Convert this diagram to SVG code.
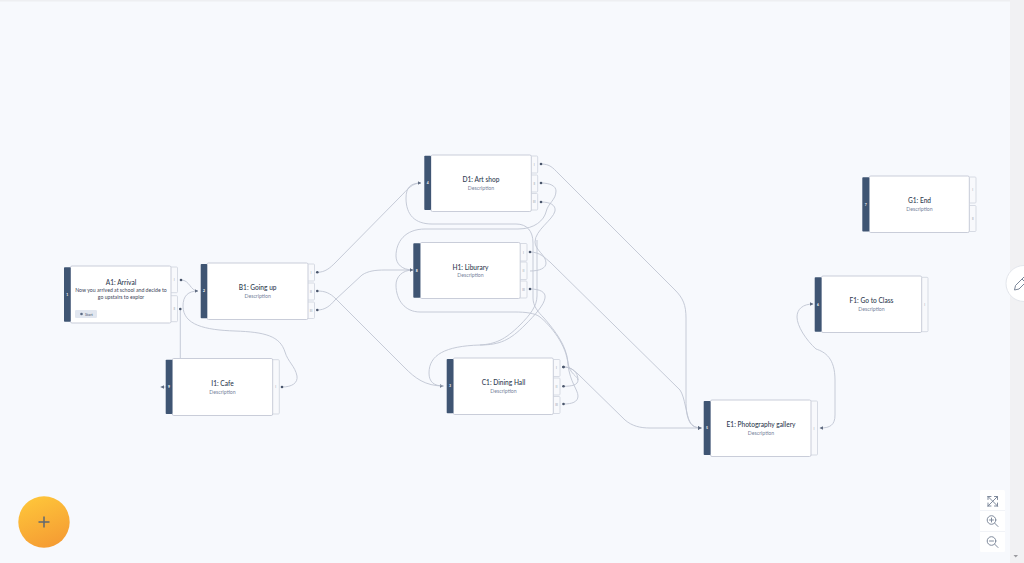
<svg xmlns="http://www.w3.org/2000/svg" width="1024" height="563" viewBox="0 0 1024 563">
<style>
text{font-family:Lato,"Open Sans","Liberation Sans",sans-serif;text-anchor:middle}
.card{fill:#fff;stroke:#c9cdd9;stroke-width:1}
.bar{fill:#3f5573}
.port{fill:#f8f9fc;stroke:#d3d7e1;stroke-width:.9}
.t{font-size:6.6px;font-weight:500;fill:#2e3a4f}
.d{font-size:5.2px;fill:#76839b}
.n{font-size:3.4px;font-weight:700;fill:#fff}
.p{font-size:3.2px;fill:#8a93a5}
.c{fill:none;stroke:#c0c5d2;stroke-width:.9}
.e{fill:none;stroke:#c0c5d2;stroke-width:.9;marker-end:url(#arr)}
.s{fill:none;stroke:#c0c5d2;stroke-width:.9;marker-start:url(#dot)}
.b{fill:none;stroke:#c0c5d2;stroke-width:.9;marker-start:url(#dot);marker-end:url(#arr)}
.i{fill:none;stroke:#7f8a9c;stroke-width:1;stroke-linecap:round}
</style>
<defs>
<marker id="arr" markerUnits="userSpaceOnUse" markerWidth="6" markerHeight="6" refX="3.500" refY="3" orient="auto"><path d="M0 1.300 L3.500 3 L0 4.700Z" fill="#5f6b80"/></marker>
<marker id="dot" markerUnits="userSpaceOnUse" markerWidth="4" markerHeight="4" refX="2" refY="2"><circle cx="2" cy="2" r="1.300" fill="#4a566c"/></marker>
<linearGradient id="fab" x1="0.3" y1="0" x2="0.7" y2="1"><stop offset="0" stop-color="#fec53a"/><stop offset="1" stop-color="#f59b33"/></linearGradient>
</defs>
<rect width="1024" height="563" fill="#f7f9fd"/>
<rect width="1024" height="1.500" fill="#eeeff2"/>
<rect x="1010" y="0" width="14" height="563" fill="#f1f1f3"/>
<path d="M1013.500 555 h4.500 l-2.250 2.600z" fill="#9a9a9f"/>

<g id="connectors">
<path class="b" d="M181 280C190 280 190 291 198 291"/>
<path class="s" d="M180.300 309L180.300 375Q180.300 387 166 387"/>
<path class="e" d="M168 387L160.500 387"/>
<path class="b" d="M282 387C292 387 298 383 297 376C295 366 288 362 285 352C280 336 265 332 235 331C205 330 183 325 183 306C183 296 188 291 198 291"/>
<path class="b" d="M317.300 272.300C325 272.300 330 268 335 263L400 197C408 189 412 183 421 183"/>
<path class="e" d="M516 224L432 224C415 224 406 215 406 198C406 187 411 183 421 183"/>
<path class="c" d="M516 224C527 224 533 231 533 243L533 298C533 306 538 312 544 318C556 332 566 345 568 362C569 374 578 376 578 380C578 385 572 386.300 563.500 386.300"/>
<circle cx="563.500" cy="386.300" r="1.300" fill="#4a566c"/>
<path class="b" d="M317.300 291C325 291 330 293 336 299L405 368C415 378 425 386 443.500 386"/>
<path class="b" d="M317.300 310C325 310 330 306 335 300L362 275C368 271 375 270 385 270L413 270"/>
<path class="b" d="M541 164C550 164 553 168 558 173L675 290C683 298 686 305 686 318L686 400C686 420 690 428 701.500 428"/>
<path class="b" d="M530 252C540 252 545 258 550 262L680 390C685 397 686 415 690 422C692 426 696 428 701.500 428"/>
<path class="b" d="M563.500 367C570 367 572 369 578 374L625 420C632 426 640 428 650 428L701.500 428"/>
<path class="s" d="M563.500 367C572 367 578 372 578 380"/>
<path class="s" d="M541 202C550 202 556 205 555 211C553 220 535 230 535 242C535 250 546 255 546 263C546 268 540 271 530 271"/>
<path class="b" d="M541 183C550 183 556 186 556 191C556 200 548 203 546 212C544 220 535 229 518 229L425 229C405 229 396 242 396 256C396 264 402 270 413 270"/>
<path class="s" d="M530 289C540 289 546 292 545 298C544 305 535 315 525 325C510 340 500 345 480 345C445 346 429 355 429 373C429 382 434 386 443.500 386"/>
<path class="c" d="M537 240L537 296C537 306 530 315 520 325C505 340 495 344 480 345"/>
<path class="e" d="M563.500 404C572 404 578 402 578 396C578 390 570 382 568 365C567 345 550 325 540 317C535 313 525 312 515 312L420 312C405 312 396 300 396 285C396 277 402 270 413 270"/>
<circle cx="563.500" cy="404" r="1.300" fill="#4a566c"/>
<path class="c" d="M820.500 428C830 428 835 425 835 415L835 380C835 358 825 352 816 349C806 340 797 326 797 317C797 309 803 304 813 304"/>
<path d="M813.500 304l-3.500 -1.700v3.400z M819.500 428l3.500 -1.700v3.400z" fill="#5f6b80"/>
</g>

<g id="node-a">
<rect class="port" x="170" y="267" width="7.500" height="25.700" rx="1"/><rect class="port" x="170" y="295.700" width="7.500" height="26" rx="1"/>
<text class="p" x="174.300" y="281">I</text><text class="p" x="174.300" y="310">II</text>
<rect class="card" x="70.500" y="266" width="100.500" height="57" rx="1.500"/>
<rect class="bar" x="64" y="267.300" width="6.700" height="54.400" rx=".8"/>
<text class="n" x="67.300" y="295.500">1</text>
<text class="t" x="121" y="284.500">A1: Arrival</text>
<text class="d" style="fill:#3c465a" x="121" y="292">Now you arrived at school and decide to</text>
<text class="d" style="fill:#3c465a" x="121" y="299">go upstairs to explor</text>
<rect x="75" y="310" width="22" height="8" rx="1.200" fill="#e2e7f0"/>
<circle cx="81.500" cy="314" r="1.300" fill="#5a6a84"/>
<text x="89" y="315.500" style="font-size:3.800px;fill:#44546c">Start</text>
</g>
<g id="node-b">
<rect class="port" x="307" y="264" width="7.500" height="17" rx="1"/><rect class="port" x="307" y="283" width="7.500" height="17" rx="1"/><rect class="port" x="307" y="302" width="7.500" height="16.500" rx="1"/>
<text class="p" x="311" y="273.500">I</text><text class="p" x="311" y="292.500">II</text><text class="p" x="311" y="311.500">III</text>
<rect class="card" x="207" y="263" width="101" height="56.500" rx="1.500"/>
<rect class="bar" x="200.700" y="264" width="6.500" height="54.300" rx=".8"/>
<text class="n" x="204" y="292.200">2</text>
<text class="t" x="257.700" y="290">B1: Going up</text><text class="d" x="257.700" y="298">Description</text>
</g>
<g id="node-i">
<rect class="port" x="272" y="359.700" width="7.300" height="54.300" rx="1"/>
<text class="p" x="275.800" y="388">I</text>
<rect class="card" x="172.300" y="358.500" width="100.400" height="57" rx="1.500"/>
<rect class="bar" x="165.700" y="359.700" width="6.700" height="54.300" rx=".8"/>
<text class="n" x="169" y="388">9</text>
<text class="t" x="222.500" y="385.800">I1: Cafe</text><text class="d" x="222.500" y="393.500">Description</text>
</g>
<g id="node-d">
<rect class="port" x="530.500" y="156" width="7.200" height="17" rx="1"/><rect class="port" x="530.500" y="175" width="7.200" height="17" rx="1"/><rect class="port" x="530.500" y="193.500" width="7.200" height="16.500" rx="1"/>
<text class="p" x="534.300" y="165.500">I</text><text class="p" x="534.300" y="184.500">II</text><text class="p" x="534.300" y="203">III</text>
<rect class="card" x="431" y="155" width="100.300" height="56.500" rx="1.500"/>
<rect class="bar" x="424.300" y="155.700" width="6.700" height="54.300" rx=".8"/>
<text class="n" x="427.700" y="184">4</text>
<text class="t" x="481" y="182">D1: Art shop</text><text class="d" x="481" y="189.700">Description</text>
</g>
<g id="node-h">
<rect class="port" x="519.500" y="243.500" width="7.500" height="17.500" rx="1"/><rect class="port" x="519.500" y="262" width="7.500" height="17.500" rx="1"/><rect class="port" x="519.500" y="281" width="7.500" height="17" rx="1"/>
<text class="p" x="523.500" y="253.500">I</text><text class="p" x="523.500" y="272">II</text><text class="p" x="523.500" y="290.500">III</text>
<rect class="card" x="420.300" y="242.500" width="99.900" height="56" rx="1.500"/>
<rect class="bar" x="413.300" y="243.300" width="7" height="54.400" rx=".8"/>
<text class="n" x="416.800" y="271.500">8</text>
<text class="t" x="470.500" y="269.500">H1: Liburary</text><text class="d" x="470.500" y="277.300">Description</text>
</g>
<g id="node-c">
<rect class="port" x="552.500" y="359.500" width="7.500" height="17" rx="1"/><rect class="port" x="552.500" y="378" width="7.500" height="17" rx="1"/><rect class="port" x="552.500" y="396.500" width="7.500" height="17" rx="1"/>
<text class="p" x="556.500" y="368.500">I</text><text class="p" x="556.500" y="387.500">II</text><text class="p" x="556.500" y="406">III</text>
<rect class="card" x="453.300" y="358" width="100" height="56.500" rx="1.500"/>
<rect class="bar" x="446.700" y="359" width="6.700" height="54.300" rx=".8"/>
<text class="n" x="450" y="387.300">3</text>
<text class="t" x="503.500" y="385">C1: Dining Hall</text><text class="d" x="503.500" y="393">Description</text>
</g>
<g id="node-e">
<rect class="port" x="810" y="401" width="7.500" height="54" rx="1"/>
<text class="p" x="814" y="429.500">I</text>
<rect class="card" x="710.500" y="400" width="100.500" height="56.500" rx="1.500"/>
<rect class="bar" x="703.700" y="401" width="6.800" height="54" rx=".8"/>
<text class="n" x="707" y="429.300">5</text>
<text class="t" x="761" y="427">E1: Photography gallery</text><text class="d" x="761" y="435">Description</text>
</g>
<g id="node-f">
<rect class="port" x="921" y="277.300" width="7" height="54.400" rx="1"/>
<text class="p" x="924.800" y="305.500">I</text>
<rect class="card" x="821.500" y="276" width="100.200" height="56.500" rx="1.500"/>
<rect class="bar" x="814.700" y="277.300" width="6.800" height="54.400" rx=".8"/>
<text class="n" x="818" y="305.500">6</text>
<text class="t" x="871.500" y="303">F1: Go to Class</text><text class="d" x="871.500" y="311">Description</text>
</g>
<g id="node-g">
<rect class="port" x="969" y="177" width="7" height="26" rx="1"/><rect class="port" x="969" y="205.500" width="7" height="26" rx="1"/>
<text class="p" x="972.800" y="191">I</text><text class="p" x="972.800" y="219.500">II</text>
<rect class="card" x="869.300" y="176" width="100" height="56.500" rx="1.500"/>
<rect class="bar" x="862.300" y="177.300" width="7" height="54.200" rx=".8"/>
<text class="n" x="865.800" y="205.500">7</text>
<text class="t" x="919.500" y="203">G1: End</text><text class="d" x="919.500" y="211">Description</text>
</g>

<circle cx="1024" cy="283.500" r="18" fill="#fff" stroke="#e3e6ec"/>
<path d="M1014.500 290L1015.500 285.500L1024 277L1027.500 280.500L1019 289Z M1022 279L1025.500 282.500" fill="none" stroke="#7b8698" stroke-width="1"/>

<circle cx="44" cy="522" r="25.700" fill="url(#fab)"/>
<path d="M44 516.500V527.500M38.500 522H49.500" stroke="#5f6872" stroke-width="1.500" fill="none"/>

<rect x="980" y="490" width="25" height="62" rx="1.500" fill="#fff"/>
<path d="M980 510.500H1005M980 531.500H1005" stroke="#f1f3f7" stroke-width="1"/>
<path class="i" d="M988 496.500L997.500 506M997.500 496.500L988 506M988 496.500h3M988 496.500v3M997.500 496.500h-3M997.500 496.500v3M988 506h3M988 506v-3M997.500 506h-3M997.500 506v-3"/>
<circle class="i" cx="991.500" cy="520" r="4.300"/><path class="i" d="M994.800 523.300L998 526.500M989.500 520h4M991.500 518v4"/>
<circle class="i" cx="991.500" cy="541" r="4.300"/><path class="i" d="M994.800 544.300L998 547.500M989.500 541h4"/>
</svg>
